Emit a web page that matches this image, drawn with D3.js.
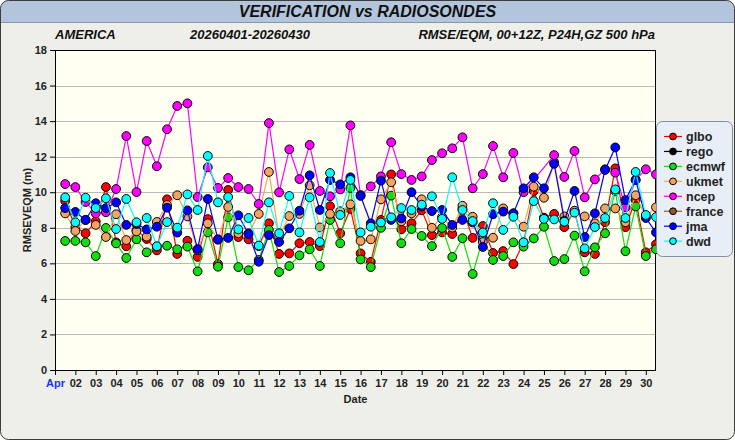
<!DOCTYPE html>
<html lang="en">
<head>
<meta charset="UTF-8">
<title>Verification vs radiosondes</title>
<script src="https://d3js.org/d3.v7.min.js"></script>
<style>
  body { margin: 0; background: #ffffff; }
  .chart { width: 735px; height: 440px; }
  .chart text { font-family: "Liberation Sans", Arial, sans-serif; }
</style>
</head>
<body>
<div class="chart"></div>
<script>
// models in legend order
const models = ['glbo', 'rego', 'ecmwf', 'ukmet', 'ncep', 'france', 'jma', 'dwd']
const colors = ['#ff0000', '#000000', '#11dd11', '#f4a460', '#ff00ff', '#8b5a2b', '#0000ff', '#00ffff']
const dayLabels = ['Apr', '02', '03', '04', '05', '06', '07', '08', '09', '10', '11', '12', '13', '14', '15',
  '16', '17', '18', '19', '20', '21', '22', '23', '24', '25', '26', '27', '28', '29', '30']
const yTicks = [0, 2, 4, 6, 8, 10, 12, 14, 16, 18]

// RMSE (m), one value every 12h from 2026-04-01 12Z to 2026-04-30 12Z (null = missing)
const glbo = [9.51, 8.04, 7.69, 8.36, 10.29, 7.18, 6.96, 7.86, 7.37, 6.73,
  9.60, 6.53, 7.27, 6.36, 8.49, 5.96, 10.13, 7.48, 7.35, 6.97,
  8.25, 6.53, 6.56, 7.13, 7.20, 6.97, 9.21, 7.69, 9.06, 6.56,
  6.08, 8.44, 11.00, 7.91, 8.25, 8.98, 7.59, 7.74, 7.65, 9.06,
  7.43, 8.10, 6.58, 6.69, 5.96, 7.18, 10.07, 8.57, 8.78, 8.04,
  8.94, 6.62, 6.53, 8.31, 11.34, 8.04, 9.56, 6.62, 7.07]
const rego = []
const ecmwf = [7.26, 7.26, 7.18, 6.41, 7.99, 7.12, 6.30, 7.35, 6.62, 6.94,
  6.99, 6.79, 6.94, 5.55, 7.74, 5.81, 8.59, 5.79, 5.61, 6.19,
  7.88, 5.51, 5.85, 6.45, 6.79, 5.85, 8.44, 7.13, 10.24, 6.22,
  5.79, 8.00, 9.81, 7.13, 7.93, 7.54, 6.97, 7.99, 6.36, 7.41,
  5.40, 7.37, 6.19, 6.41, 7.18, 6.94, 7.40, 8.06, 6.13, 6.24,
  7.56, 5.55, 6.90, 7.69, 10.07, 6.68, 9.20, 6.41, 6.79]
const ukmet = [8.81, 7.82, 8.44, 8.16, 7.48, 8.76, 7.31, 7.80, 7.50, 8.33,
  9.28, 9.83, 8.64, 6.73, 8.25, 7.33, 9.17, 7.69, 7.69, 8.78,
  11.14, 7.50, 8.66, 8.78, 10.39, 8.02, 8.78, 8.93, 9.32, 7.26,
  7.35, 9.60, 10.56, 8.36, 8.81, 9.60, 8.00, 8.61, 8.01, 9.24,
  8.62, 7.20, 7.44, 9.09, 8.81, 8.06, 10.31, 9.69, 11.70, 8.64,
  8.96, 8.64, 8.25, 9.09, 9.09, 8.31, 9.83, 8.61, 9.15]
const ncep = [10.46, 10.29, 9.45, 8.81, 8.87, 10.18, 13.16, 10.01, 12.88, 11.46,
  13.54, 14.85, 15.00, 9.73, 11.40, 10.24, 10.80, 10.29, 10.18, 9.34,
  13.89, 9.99, 12.41, 10.74, 12.66, 10.07, 9.77, 10.16, 13.76, 9.84,
  10.33, 10.89, 12.81, 11.02, 10.69, 10.89, 11.81, 12.19, 12.47, 13.09,
  10.22, 11.02, 12.60, 10.84, 12.21, 10.00, null, null, 12.09, 10.86,
  12.32, 9.71, 10.72, 11.29, 11.10, 9.15, 10.69, 11.29, 11.00]
const france = []
const jma = [9.11, 8.89, 8.44, 9.38, 9.11, 9.43, 8.16, 8.21, 7.91, 8.06,
  9.13, 7.73, 8.98, 6.80, 9.62, 7.35, 7.43, 8.70, 7.65, 6.09,
  7.59, 7.20, 7.97, 8.96, 10.95, 9.00, 10.69, 10.44, 10.84, 9.79,
  8.25, 10.65, 8.44, 8.53, 10.00, 9.19, 8.94, 9.00, 8.16, 8.44,
  8.30, 6.92, 8.76, 8.91, 8.81, 10.22, 10.84, 10.22, 11.60, 8.40,
  10.07, 7.48, 8.81, 11.25, 12.52, 9.56, 10.70, 8.55, 7.74]
const dwd = [9.71, 8.31, 9.69, 9.11, 9.66, 7.93, 9.62, 8.31, 8.55, 6.96,
  8.32, 8.01, 9.88, 9.00, 12.04, 9.43, 9.73, 7.91, 8.55, 7.00,
  9.43, 7.69, 9.79, 7.74, 9.71, 7.20, 11.08, 8.72, 10.69, 7.74,
  8.06, 8.30, 8.59, 9.11, 9.00, 9.30, 9.77, 8.50, 10.84, 9.00,
  8.38, 7.74, 9.38, 7.88, 8.62, 7.18, 9.50, 8.50, 8.47, 8.34,
  8.85, 6.84, 8.04, 8.55, 10.16, 8.55, 11.14, 8.72, 8.60]
const series = [glbo, rego, ecmwf, ukmet, ncep, france, jma, dwd]

const W = 735, H = 440
const plot = {left: 55, right: 656, top: 50, bottom: 370}
const firstTime = Date.UTC(2026, 3, 1, 12)
const step = 12 * 3600 * 1000

const svg = d3.select('.chart').append('svg')
  .attr('width', W).attr('height', H)

// frame and title bar
svg.append('clipPath').attr('id', 'frame')
  .append('rect').attr('x', 0.5).attr('y', 0.5).attr('width', W - 1).attr('height', H - 1).attr('rx', 8)
svg.append('rect')
  .attr('x', 0.5).attr('y', 0.5).attr('width', W - 1).attr('height', H - 1).attr('rx', 8)
  .attr('fill', '#efefea')
svg.append('rect')
  .attr('clip-path', 'url(#frame)')
  .attr('x', 0).attr('y', 0).attr('width', W).attr('height', 22)
  .attr('fill', '#b3c5dc')
svg.append('line')
  .attr('x1', 0).attr('x2', W).attr('y1', 22.5).attr('y2', 22.5)
  .attr('stroke', '#8a96a8')
svg.append('rect')
  .attr('x', 0.5).attr('y', 0.5).attr('width', W - 1).attr('height', H - 1).attr('rx', 8)
  .attr('fill', 'none').attr('stroke', '#3c3c3c')

svg.append('text')
  .attr('x', W / 2).attr('y', 17)
  .attr('text-anchor', 'middle')
  .style('font-size', '16px').style('font-weight', 'bold').style('font-style', 'italic')
  .attr('fill', '#111')
  .text('VERIFICATION vs RADIOSONDES')

const sub = svg.append('g')
  .style('font-size', '13px').style('font-weight', 'bold').style('font-style', 'italic')
  .attr('fill', '#111')
sub.append('text').attr('x', 55).attr('y', 39).text('AMERICA')
sub.append('text').attr('x', 250).attr('y', 39).attr('text-anchor', 'middle').text('20260401-20260430')
sub.append('text').attr('x', 655).attr('y', 39).attr('text-anchor', 'end').text('RMSE/EQM, 00+12Z, P24H,GZ 500 hPa')

// scales
const xScale = d3.scaleUtc()
  .domain([new Date(Date.UTC(2026, 3, 1, 0)), new Date(Date.UTC(2026, 3, 30, 12))])
  .range([plot.left, plot.right])
const yScale = d3.scaleLinear()
  .domain([0, 18])
  .range([plot.bottom, plot.top])

// plot background + grid
svg.append('rect')
  .attr('x', plot.left).attr('y', plot.top)
  .attr('width', plot.right - plot.left).attr('height', plot.bottom - plot.top)
  .attr('fill', '#fffff2')
svg.append('g')
  .selectAll('line')
  .data(yTicks.filter(d => d > 0 && d < 18))
  .join('line')
  .attr('x1', plot.left).attr('x2', plot.right)
  .attr('y1', d => Math.round(yScale(d)) + 0.5).attr('y2', d => Math.round(yScale(d)) + 0.5)
  .attr('stroke', '#b8b8b8')

// axes
const days = dayLabels.map((d, i) => new Date(Date.UTC(2026, 3, 1 + i)))
const xAxis = d3.axisBottom(xScale)
  .tickValues(days)
  .tickSize(5)
  .tickFormat((d, i) => dayLabels[i])
const xAxisGroup = svg.append('g')
  .attr('transform', `translate(0,${plot.bottom})`)
  .call(xAxis)
xAxisGroup.select('.domain').remove()
xAxisGroup.selectAll('text')
  .attr('y', 9)
  .style('font-size', '11px').style('font-weight', 'bold')
  .attr('fill', (d, i) => i == 0 ? '#2233ee' : '#222')
  .attr('font-family', null)

const yAxis = d3.axisLeft(yScale)
  .tickValues(yTicks)
  .tickSize(5)
const yAxisGroup = svg.append('g')
  .attr('transform', `translate(${plot.left},0)`)
  .call(yAxis)
yAxisGroup.select('.domain').remove()
yAxisGroup.selectAll('text')
  .style('font-size', '11px').style('font-weight', 'bold')
  .attr('fill', '#222')
  .attr('font-family', null)

// plot frame
svg.append('rect')
  .attr('x', plot.left + 0.5).attr('y', plot.top + 0.5)
  .attr('width', plot.right - plot.left - 1).attr('height', plot.bottom - plot.top)
  .attr('fill', 'none').attr('stroke', '#000')

svg.append('text')
  .attr('transform', `translate(31,${(plot.top + plot.bottom) / 2}) rotate(-90)`)
  .attr('text-anchor', 'middle')
  .style('font-size', '11px').style('font-weight', 'bold')
  .attr('fill', '#222')
  .text('RMSEVEQM (m)')
svg.append('text')
  .attr('x', (plot.left + plot.right) / 2).attr('y', 403)
  .attr('text-anchor', 'middle')
  .style('font-size', '11px').style('font-weight', 'bold')
  .attr('fill', '#222')
  .text('Date')

// lines and points (lines join across missing values, like the original)
const lineGen = d3.line()
  .x(d => xScale(new Date(firstTime + d.i * step)))
  .y(d => yScale(d.v))

series.forEach((values, k) => {
  const pts = values.map((v, i) => ({v, i})).filter(d => d.v != null)
  const g = svg.append('g')
  g.append('path')
    .attr('d', lineGen(pts))
    .attr('fill', 'none')
    .attr('stroke', colors[k])
    .attr('stroke-width', 1.2)
  g.selectAll('circle')
    .data(pts)
    .join('circle')
    .attr('cx', d => xScale(new Date(firstTime + d.i * step)))
    .attr('cy', d => yScale(d.v))
    .attr('r', 4.4)
    .attr('fill', colors[k])
    .attr('stroke', '#000')
    .attr('stroke-width', 1)
})

// legend
const legend = svg.append('g').attr('transform', 'translate(656,121)')
legend.append('rect')
  .attr('x', 0.5).attr('y', 0.5).attr('width', 76).attr('height', 135).attr('rx', 6)
  .attr('fill', '#e8eef5').attr('stroke', '#7f8ea3')
const item = legend.selectAll('.item')
  .data(models)
  .join('g')
  .attr('class', 'item')
  .attr('transform', (d, i) => `translate(0,${15.5 + i * 14.95})`)
item.append('line')
  .attr('x1', 8).attr('x2', 26)
  .attr('stroke', (d, i) => colors[i])
  .attr('stroke-width', 1.2)
item.append('circle')
  .attr('cx', 17).attr('r', 3.4)
  .attr('fill', (d, i) => colors[i])
  .attr('stroke', '#000')
item.append('text')
  .attr('x', 30).attr('y', 4.5)
  .style('font-size', '12.5px').style('font-weight', 'bold')
  .attr('fill', '#222')
  .text(d => d)
</script>
</body>
</html>
